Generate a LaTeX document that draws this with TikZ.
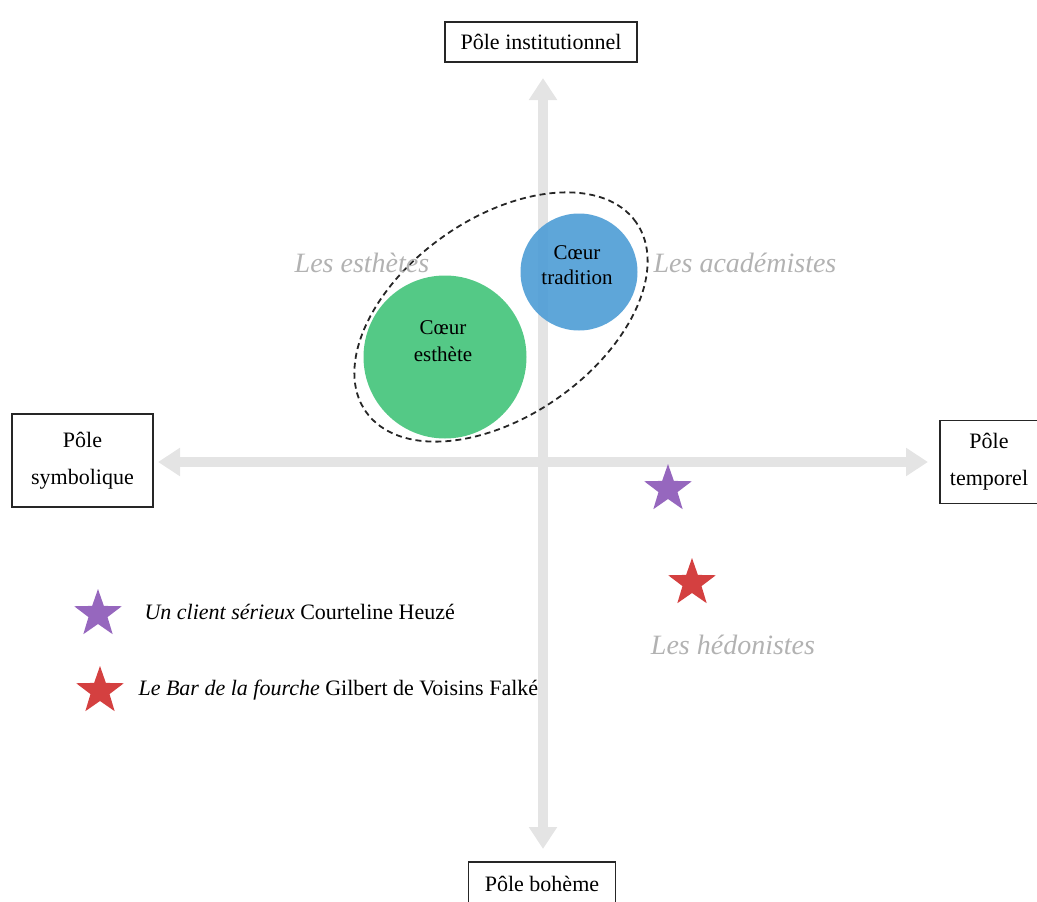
\documentclass[tikz,border=0pt]{standalone}
\usepackage{fontspec}
\setmainfont{Liberation Serif}
\usetikzlibrary{shapes.geometric,arrows.meta}
\definecolor{axisgray}{RGB}{228,228,228}
\definecolor{grouplbl}{RGB}{178,178,178}
\definecolor{cgreen}{RGB}{84,201,134}
\definecolor{cblue}{RGB}{80,158,214}
\definecolor{spurple}{RGB}{150,103,190}
\definecolor{sred}{RGB}{212,64,64}
\tikzset{
  pole/.style={draw=black!85, line width=1.2pt, fill=white, inner sep=0pt, align=center,
    font=\fontsize{22}{37}\selectfont},
  axis/.style={draw=axisgray, line width=10pt,
    {Triangle[width=27pt,length=22pt]}-{Triangle[width=27pt,length=22pt]}},
  coeur/.style={circle, inner sep=0pt, align=center, font=\fontsize{21}{26}\selectfont},
  grp/.style={text=grouplbl, font=\fontsize{28}{32}\selectfont\itshape},
  starmark/.style={star, star points=5, star point ratio=2.5, minimum size=50pt, inner sep=0pt},
  legend/.style={anchor=west, font=\fontsize{22}{26}\selectfont}
}
\begin{document}
\begin{tikzpicture}[x=1pt,y=-1pt]
\useasboundingbox (0,0) rectangle (1037,902);
\clip (0,0) rectangle (1037,902);
% axes
\coordinate (ntip) at (543,78);
\coordinate (stip) at (543,849);
\coordinate (wtip) at (158,462);
\coordinate (etip) at (928,462);
\draw[axis] (stip) -- (ntip);
\draw[axis] (wtip) -- (etip);
% poles
\node[pole, minimum width=192pt, minimum height=40pt] (pinst) at (541,42) {Pôle institutionnel};
\node[pole, minimum width=141pt, minimum height=93pt] (psym) at (82.5,460.5) {Pôle\\symbolique};
\node[pole, minimum width=98pt, minimum height=83pt] (ptemp) at (989,462) {Pôle\\temporel};
\node[pole, minimum width=147pt, minimum height=44pt] (pboh) at (542,884) {Pôle bohème};
% circles
\node[coeur, fill=cgreen, minimum size=163pt] (cest) at (445,357) {};
\node[align=center, font=\fontsize{21}{27}\selectfont] (cestlbl) at (443,341) {Cœur\\esthète};
\node[coeur, fill=cblue, fill opacity=0.92, minimum size=117pt] (ctrad) at (579,272) {};
\node[align=center, font=\fontsize{21}{25}\selectfont] (ctradlbl) at (577,265) {Cœur\\tradition};
% dashed ellipse
\node[draw=black!85, dash pattern=on 6pt off 4pt, line width=1.8pt, ellipse, minimum width=330pt, minimum height=198pt, rotate=35] (grp) at (501,317) {};
% group labels
\node[grp] (lest) at (362,263) {Les esthètes};
\node[grp] (lacad) at (745,263) {Les académistes};
\node[grp] (lhed) at (733,645) {Les hédonistes};
% stars
\node[starmark, fill=spurple] (s1) at (668,489) {};
\node[starmark, fill=sred] (s2) at (692,583) {};
\node[starmark, fill=spurple] (l1) at (98,614) {};
\node[starmark, fill=sred] (l2) at (100,691) {};
\node[legend] (t1) at (141,612) {\textit{Un client sérieux} Courteline Heuzé};
\node[legend] (t2) at (135,690) {\textit{Le Bar de la fourche} Gilbert de Voisins Falké};
\end{tikzpicture}
\end{document}
